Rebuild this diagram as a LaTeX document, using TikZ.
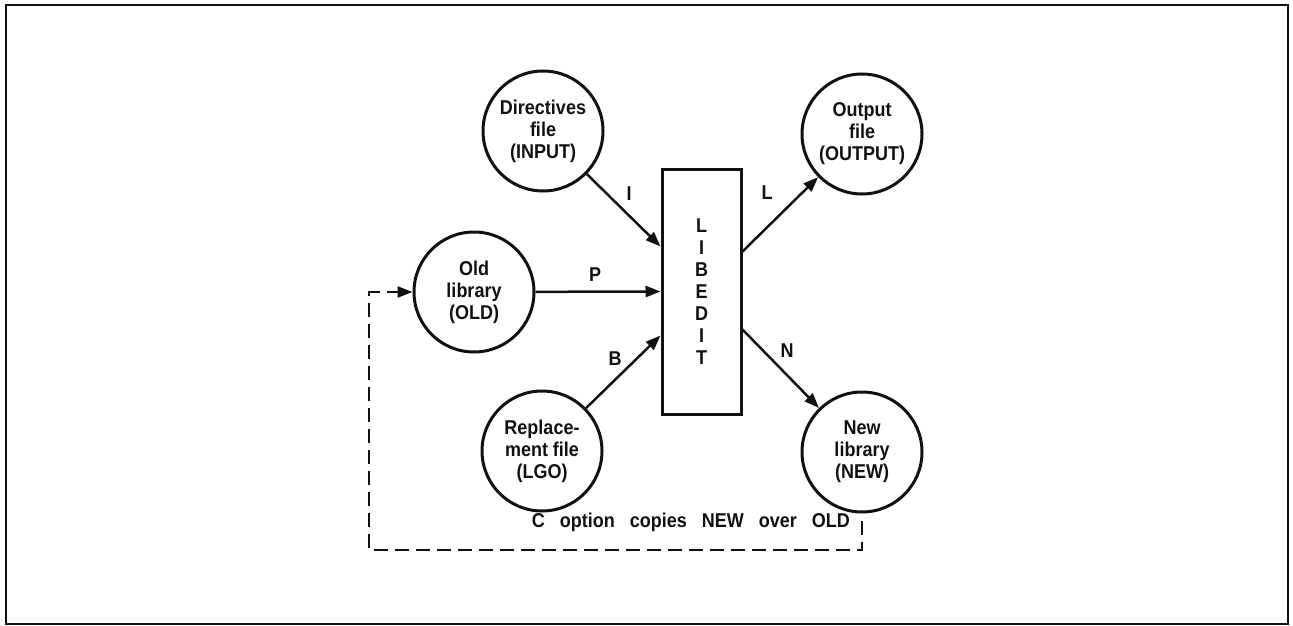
\documentclass[tikz,border=0pt]{standalone}
\usepackage{fontspec}
\setmainfont{Liberation Sans}[FakeStretch=0.9]
\newfontfamily\widespaced{Liberation Sans}[FakeStretch=0.9,WordSpace=3]
\usetikzlibrary{arrows.meta,positioning,calc}
\definecolor{ink}{HTML}{111111}

\begin{document}
\begin{tikzpicture}[x=1pt,y=-1pt,
  font=\fontsize{20}{22}\selectfont\bfseries,
  file/.style={draw=ink,circle,line width=3pt,minimum size=120pt,inner sep=0pt,align=center,text=ink},
  prog/.style={draw=ink,rectangle,line width=3pt,minimum width=79pt,minimum height=245pt,inner sep=0pt,align=center,text=ink},
  flow/.style={draw=ink,line width=2.5pt,-{Triangle[length=15pt,width=11pt]}},
  feedback/.style={flow,dash pattern=on 14pt off 7pt},
  lbl/.style={inner sep=1pt,text=ink}]
  \useasboundingbox (0,0) rectangle (1293,626);
  \draw[ink,line width=2pt] (6,5) rectangle (1288,624);
  % program and files
  \node[prog] (libedit) at (701.5,291.5) {L\\I\\B\\E\\D\\I\\T};
  \node[file] (dir) at (543,131) {Directives\\file\\(INPUT)};
  \node[file] (old) at (474,292) {Old\\library\\(OLD)};
  \node[file] (lgo) at (542,451) {Replace-\\ment file\\(LGO)};
  \node[file] (out) at (862,134) {Output\\file\\(OUTPUT)};
  \node[file] (new) at (862,452) {New\\library\\(NEW)};
  % flows
  \draw[flow] (dir) -- ([yshift=45pt]libedit.west);
  \draw[flow] (old) -- (libedit.west);
  \draw[flow] (lgo) -- ([yshift=-44pt]libedit.west);
  \draw[flow] ([yshift=40pt]libedit.east) -- (out);
  \draw[flow] ([yshift=-38pt]libedit.east) -- (new);
  \node[lbl] (lblI) at (629,194) {I};
  \node[lbl] (lblP) at (595,275) {P};
  \node[lbl] (lblB) at (615,359) {B};
  \node[lbl] (lblL) at (767,193) {L};
  \node[lbl] (lblN) at (787,351) {N};
  % C option loop back
  \coordinate (fbtop) at ([yshift=-7pt]new.south);
  \coordinate (fbcorner) at (369,550);
  \draw[feedback] (fbtop) |- (fbcorner) |- (old.west);
  \node[lbl,anchor=east] (copynote) at (851,522) {\widespaced\bfseries C option copies NEW over OLD};
\end{tikzpicture}
\end{document}
